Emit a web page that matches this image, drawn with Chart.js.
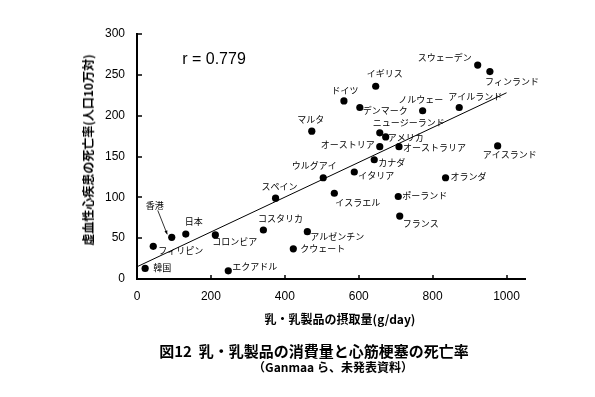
<!DOCTYPE html>
<html>
<head>
<meta charset="utf-8">
<script src="https://cdn.jsdelivr.net/npm/chart.js@4/dist/chart.umd.min.js"></script>
<style>
  body { margin: 0; background: #fff; }
  #wrap { position: relative; width: 595px; height: 397px; }
  .txt {
    position: absolute;
    transform: translate(-50%, -50%);
    white-space: nowrap;
    line-height: 1;
    color: #000;
    font-family: "Noto Sans CJK JP", "Liberation Sans", sans-serif;
    font-weight: bold;
  }
</style>
</head>
<body>
<div id="wrap">
  <canvas id="chart"></canvas>
  <div class="txt" style="left:214px;top:59px;font-family:'Liberation Sans',sans-serif;font-weight:normal;font-size:16px;">r = 0.779</div>
  <div class="txt" style="left:340px;top:319px;font-size:12px;">乳・乳製品の摂取量(g/day)</div>
  <div class="txt" style="left:88px;top:150px;font-size:12px;transform:translate(-50%,-50%) rotate(-90deg);">虚血性心疾患の死亡率(人口10万対)</div>
  <div class="txt" style="left:314px;top:350px;font-size:15px;">図12&nbsp; 乳・乳製品の消費量と心筋梗塞の死亡率</div>
  <div class="txt" style="left:333px;top:367px;font-size:12px;">（Ganmaa ら、未発表資料）</div>
</div>
<script>
// countries, milk intake (g/day), deaths per 100k
const countries = [
  "韓国", "フィリピン", "香港", "日本", "コロンビア", "エクアドル",
  "コスタリカ", "スペイン", "ウルグアイ", "アルゼンチン", "クウェート",
  "イスラエル", "イタリア", "カナダ", "ポーランド", "フランス", "オランダ",
  "スウェーデン", "フィンランド", "イギリス", "ドイツ", "デンマーク",
  "ノルウェー", "アイルランド", "ニュージーランド", "アメリカ",
  "オーストリア", "オーストラリア", "アイスランド", "マルタ"
];
const intake = [
  22, 44, 94, 132, 212, 247,
  342, 375, 504, 461, 423,
  534, 588, 642, 707, 711, 835,
  922, 955, 646, 560, 603,
  773, 872, 657, 673,
  657, 709, 976, 473
];
const deathRate = [
  13, 40, 51, 55, 54, 10,
  60, 99, 124, 58, 37,
  105, 131, 146, 101, 77, 124,
  262, 254, 236, 218, 210,
  206, 210, 179, 174,
  162, 162, 163, 181
];
// regression line ends
const fitX = [0, 1000];
const fitY = [15, 228];

const xTicks = [0, 200, 400, 600, 800, 1000];
const yTicks = [0, 50, 100, 150, 200, 250, 300];

// label placement: [dx, dy, align]
const labelPos = {
  "韓国": [8, -1, "left"], "フィリピン": [5, 4, "left"], "香港": [-17, -32, "center"],
  "日本": [8, -13, "center"], "コロンビア": [-3, 7, "left"], "エクアドル": [4, -4, "left"],
  "コスタリカ": [17, -11, "center"], "スペイン": [4, -12, "center"], "ウルグアイ": [-9, -12, "center"],
  "アルゼンチン": [3, 5, "left"], "クウェート": [7, 0, "left"], "イスラエル": [1, 9, "left"],
  "イタリア": [4, 4, "left"], "カナダ": [4, 3, "left"], "ポーランド": [4, -1, "left"],
  "フランス": [3, 7, "left"], "オランダ": [5, -1, "left"], "スウェーデン": [-6, -7, "right"],
  "フィンランド": [-5, 10, "left"], "イギリス": [9, -13, "center"], "ドイツ": [1, -10, "center"],
  "デンマーク": [3, 3, "left"], "ノルウェー": [-2, -11, "center"], "アイルランド": [16, -11, "center"],
  "ニュージーランド": [-7, -10, "left"], "アメリカ": [2, 1, "left"], "オーストリア": [-5, -2, "right"],
  "オーストラリア": [4, 1, "left"], "アイスランド": [12, 9, "center"], "マルタ": [-1, -12, "center"]
};

const points = countries.map((c, i) => ({ x: intake[i], y: deathRate[i] }));
const fitLine = fitX.map((x, i) => ({ x: x, y: fitY[i] }));

const tickFont = { family: "'Liberation Sans', Arial, sans-serif", size: 12 };

const extras = {
  id: "extras",
  afterDatasetsDraw(chart) {
    const ctx = chart.ctx;
    const xs = chart.scales.x, ys = chart.scales.y;
    ctx.save();
    // inward tick marks
    ctx.strokeStyle = "#000";
    ctx.lineWidth = 1.5;
    ctx.beginPath();
    yTicks.forEach(v => {
      const py = Math.round(ys.getPixelForValue(v));
      ctx.moveTo(xs.left, py);
      ctx.lineTo(xs.left + 5, py);
    });
    xTicks.forEach(v => {
      const px = Math.round(xs.getPixelForValue(v));
      ctx.moveTo(px, ys.bottom);
      ctx.lineTo(px, ys.bottom - 4);
    });
    ctx.stroke();

    // country labels
    const meta = chart.getDatasetMeta(0);
    ctx.fillStyle = "#000";
    ctx.font = "9px 'Noto Sans CJK JP', sans-serif";
    ctx.textBaseline = "middle";
    meta.data.forEach((pt, i) => {
      const name = countries[i];
      const p = labelPos[name];
      ctx.textAlign = p[2];
      ctx.fillText(name, pt.x + p[0], pt.y + p[1]);
      if (name === "香港") {
        const x0 = pt.x - 14, y0 = pt.y - 27;
        const x1 = pt.x - 4.5, y1 = pt.y - 3;
        ctx.lineWidth = 0.8;
        ctx.beginPath();
        ctx.moveTo(x0, y0);
        ctx.lineTo(x1, y1);
        ctx.stroke();
        const a = Math.atan2(y1 - y0, x1 - x0);
        ctx.beginPath();
        ctx.moveTo(x1, y1);
        ctx.lineTo(x1 - 4 * Math.cos(a - 0.4), y1 - 4 * Math.sin(a - 0.4));
        ctx.lineTo(x1 - 4 * Math.cos(a + 0.4), y1 - 4 * Math.sin(a + 0.4));
        ctx.closePath();
        ctx.fill();
      }
    });
    ctx.restore();
  }
};

new Chart(document.getElementById("chart"), {
  type: "scatter",
  data: {
    datasets: [
      {
        data: points,
        backgroundColor: "#000",
        borderWidth: 0,
        pointRadius: 3.6,
      },
      {
        type: "line",
        data: fitLine,
        borderColor: "#000",
        borderWidth: 1,
        pointRadius: 0,
        fill: false,
      },
    ],
  },
  options: {
    responsive: true,
    maintainAspectRatio: false,
    animation: false,
    layout: { padding: { left: 0, right: 70, top: 34, bottom: 0 } },
    plugins: {
      legend: { display: false },
      tooltip: { enabled: false },
    },
    scales: {
      x: {
        type: "linear",
        min: 0,
        max: 1050,
        afterBuildTicks: s => { s.ticks = xTicks.map(v => ({ value: v })); },
        afterFit: s => { s.height = 397 - 279; },
        grid: { display: false, drawTicks: false },
        border: { color: "#000", width: 2 },
        ticks: { color: "#000", font: tickFont, padding: 10, maxRotation: 0, callback: v => String(v) },
      },
      y: {
        min: 0,
        max: 300,
        afterBuildTicks: s => { s.ticks = yTicks.map(v => ({ value: v })); },
        afterFit: s => { s.width = 137; },
        grid: { display: false, drawTicks: false },
        border: { color: "#000", width: 2 },
        ticks: { color: "#000", font: tickFont, padding: 12, callback: v => String(v) },
      },
    },
  },
  plugins: [extras],
});
</script>
</body>
</html>
